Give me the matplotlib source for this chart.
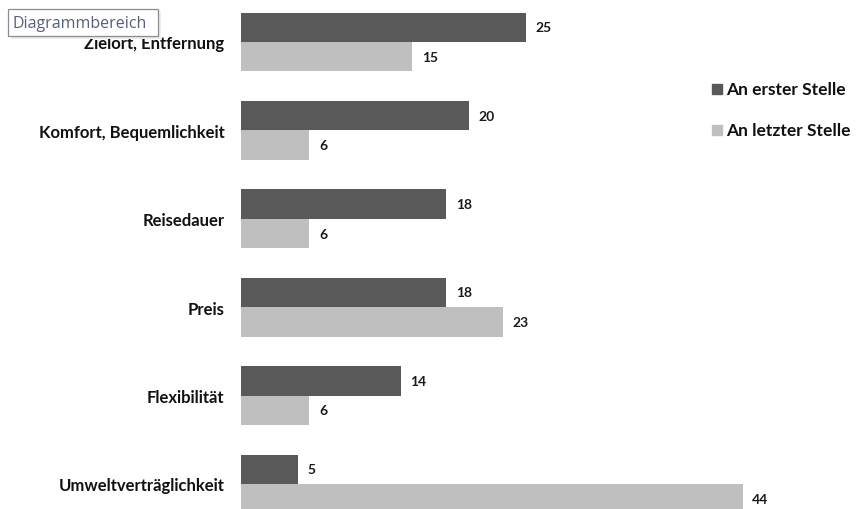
import matplotlib.pyplot as plt
from matplotlib.patches import Rectangle

categories = ["Zielort, Entfernung", "Komfort, Bequemlichkeit", "Reisedauer",
              "Preis", "Flexibilität", "Umweltverträglichkeit"]
erster = [25, 20, 18, 18, 14, 5]
letzter = [15, 6, 6, 23, 6, 44]
series_names = ["An erster Stelle", "An letzter Stelle"]

DARK = "#595959"
LIGHT = "#BFBFBF"
FONT = ["Lato", "DejaVu Sans"]

W, H = 857, 510
fig = plt.figure(figsize=(W / 100, H / 100), dpi=100)

# Plot area: value 0 at pixel 241, ~11.4 px per unit
px_per_unit = 11.4
x0_px = 241
ax_w_px = 44 * px_per_unit
ax = fig.add_axes([x0_px / W, 0, ax_w_px / W, 1])
ax.set_xlim(0, 44)
band = 88.4
ax.set_ylim(5 + 25 / band, -43 / band)

h = 1 / 3
ys = list(range(len(categories)))
ax.barh([y - h / 2 for y in ys], erster, height=h, color=DARK, clip_on=False)
ax.barh([y + h / 2 for y in ys], letzter, height=h, color=LIGHT, clip_on=False)

for y, v in zip(ys, erster):
    ax.annotate(str(v), (v, y - h / 2), xytext=(7, 0), textcoords="offset points",
                va="center", ha="left", fontsize=10, fontweight="bold",
                family=FONT, color="#1a1a1a", annotation_clip=False)
for y, v in zip(ys, letzter):
    ax.annotate(str(v), (v, y + h / 2), xytext=(7, 0), textcoords="offset points",
                va="center", ha="left", fontsize=10, fontweight="bold",
                family=FONT, color="#1a1a1a", annotation_clip=False)

ax.set_yticks(ys)
ax.set_yticklabels(categories, fontsize=12, fontweight="bold", family=FONT, color="#111111")
ax.tick_params(axis="y", length=0, pad=12)
ax.set_xticks([])
for s in ax.spines.values():
    s.set_visible(False)

# Legend
for i, (name, col) in enumerate(zip(series_names, [DARK, LIGHT])):
    yp = 90 + i * 41
    fig.patches.append(Rectangle((712 / W, 1 - (yp + 5) / H), 10 / W, 10 / H,
                                 transform=fig.transFigure, color=col))
    fig.text(726 / W, 1 - yp / H, name, fontsize=12.5, fontweight="bold",
             family=FONT, color="#111111", va="center", ha="left")

# Hover box over the chart area
fig.patches.append(Rectangle((11 / W, 1 - 40 / H), 150 / W, 28 / H,
                             transform=fig.transFigure, facecolor="#ececec",
                             edgecolor="none", zorder=9))
fig.patches.append(Rectangle((8 / W, 1 - 37 / H), 150 / W, 27 / H,
                             transform=fig.transFigure, facecolor="white",
                             edgecolor="#8c8c8c", lw=0.9, zorder=10))
fig.text(13 / W, 1 - 23.5 / H, "Diagrammbereich", fontsize=11.5,
         family=["Open Sans", "DejaVu Sans"],
         color="#55607a", va="center", ha="left", zorder=11)

fig.savefig("out.png", dpi=100)
